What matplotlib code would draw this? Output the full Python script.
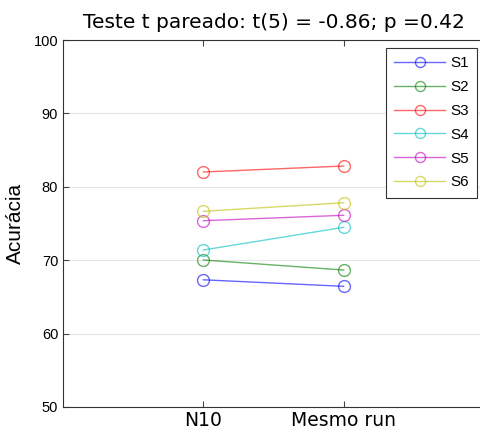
import matplotlib
matplotlib.use("Agg")
import matplotlib.pyplot as plt

# condições e acurácias por sujeito
conditions = ["N10", "Mesmo run"]
subjects = ["S1", "S2", "S3", "S4", "S5", "S6"]
acc_n10 = [67.33, 70.03, 82.02, 71.39, 75.38, 76.66]
acc_mesmo = [66.44, 68.66, 82.83, 74.48, 76.12, 77.83]
colors = ["b", "g", "r", "c", "m", "y"]

fig = plt.figure(figsize=(4.8, 4.32), dpi=100)
ax = fig.add_axes([63 / 480, 25 / 432, 421 / 480, 367 / 432])

x = [1, 2]
for s, a, b, c in zip(subjects, acc_n10, acc_mesmo, colors):
    ax.plot(x, [a, b], color=c, marker="o", markerfacecolor="none",
            markersize=8.5, linewidth=1.0, alpha=0.6, label=s)

ax.set_xlim(0, 3)
ax.set_ylim(50, 100)
ax.set_xticks(x)
ax.set_xticklabels(conditions, fontsize=13.5, family="DejaVu Sans")
ax.set_yticks([50, 60, 70, 80, 90, 100])
ax.set_yticklabels(["50", "60", "70", "80", "90", "100"],
                   fontsize=10.5, family="Liberation Sans")
ax.tick_params(direction="in", top=True, right=False, length=4,
               color="#444444")
ax.tick_params(axis="x", pad=3)
ax.yaxis.grid(True, color="#e6e6e6", linewidth=0.8)
ax.set_axisbelow(True)
for sp in ax.spines.values():
    sp.set_color("#333333")
    sp.set_linewidth(0.8)

ax.set_ylabel("Acurácia", fontsize=15, family="Liberation Sans", labelpad=6)
ax.set_title("Teste t pareado: t(5) = -0.86; p =0.42", fontsize=14.5,
             family="DejaVu Sans", x=(274 - 63) / 421, pad=9)

leg = ax.legend(loc="upper left", bbox_to_anchor=((386 - 63) / 421, 1 - 8 / 367),
                fancybox=False, edgecolor="#333333", framealpha=1,
                prop={"family": "Liberation Sans", "size": 11},
                handlelength=3.3, borderpad=0.55, labelspacing=0.64,
                handletextpad=0.35, borderaxespad=0, markerscale=0.85)
leg.get_frame().set_linewidth(0.8)

fig.savefig("out.png", dpi=100)
